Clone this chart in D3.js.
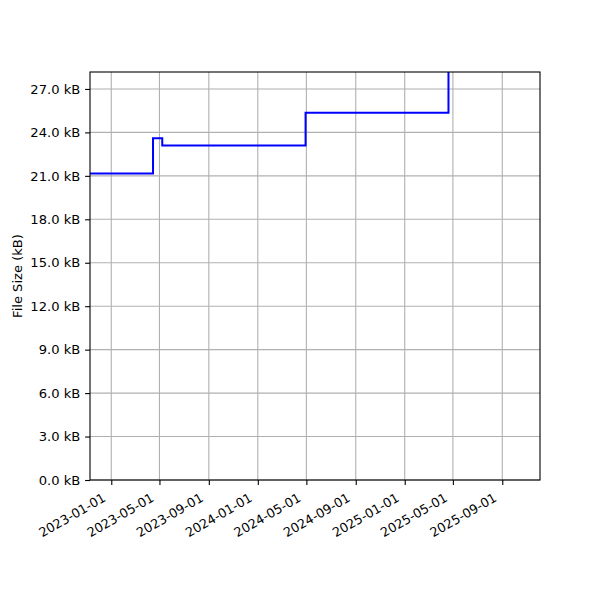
<!DOCTYPE html>
<html>
<head>
<meta charset="utf-8">
<script src="https://cdn.jsdelivr.net/npm/d3@7"></script>
<style>
  body { margin: 0; background: #fff; }
  text { font-family: "DejaVu Sans", sans-serif; }
</style>
</head>
<body>
<svg id="chart" width="600" height="600"></svg>
<script>

// step series: file size (kB) at each change date
var dates = ['2022-11-09', '2023-04-15', '2023-05-08', '2024-04-29', '2025-04-20', '2025-12-04'];
var sizes = [21.17, 23.59, 23.10, 25.36, 31.0, 31.0];

var xTickDates = ['2023-01-01', '2023-05-01', '2023-09-01', '2024-01-01', '2024-05-01',
                  '2024-09-01', '2025-01-01', '2025-05-01', '2025-09-01'];
var yTicks = [0, 3, 6, 9, 12, 15, 18, 21, 24, 27];

var xDomain = ['2022-11-09', '2025-12-04'];
var yDomain = [0, 28.17];

var parse = d3.utcParse('%Y-%m-%d');
var fontSize = 13.1;

var margin = { left: 90, right: 60, top: 72, bottom: 120 },
    width = 600 - margin.left - margin.right,
    height = 600 - margin.top - margin.bottom;

var svg = d3.select('#chart');

var x = d3.scaleUtc()
    .domain(xDomain.map(parse))
    .range([margin.left, margin.left + width]);

var y = d3.scaleLinear()
    .domain(yDomain)
    .range([margin.top + height, margin.top]);

var points = dates.map(function (d, i) { return { date: parse(d), size: sizes[i] }; });

svg.append('clipPath')
    .attr('id', 'clip')
  .append('rect')
    .attr('x', margin.left)
    .attr('y', margin.top)
    .attr('width', width)
    .attr('height', height);

// grid
var grid = svg.append('g').attr('stroke', '#b0b0b0').attr('stroke-width', 1.1);

grid.selectAll('.gx')
    .data(xTickDates.map(parse))
    .enter()
    .append('line')
    .attr('x1', function (d) { return x(d); })
    .attr('x2', function (d) { return x(d); })
    .attr('y1', margin.top)
    .attr('y2', margin.top + height);

grid.selectAll('.gy')
    .data(yTicks)
    .enter()
    .append('line')
    .attr('x1', margin.left)
    .attr('x2', margin.left + width)
    .attr('y1', function (d) { return y(d); })
    .attr('y2', function (d) { return y(d); });

// line
var line = d3.line()
    .x(function (d) { return x(d.date); })
    .y(function (d) { return y(d.size); })
    .curve(d3.curveStepAfter);

svg.append('path')
    .datum(points)
    .attr('clip-path', 'url(#clip)')
    .attr('fill', 'none')
    .attr('stroke', '#0000ff')
    .attr('stroke-width', 2)
    .attr('d', line);

// axes
var xAxis = svg.append('g')
    .attr('transform', 'translate(0,' + (margin.top + height) + ')')
    .call(d3.axisBottom(x)
        .tickValues(xTickDates.map(parse))
        .tickFormat(d3.utcFormat('%Y-%m-%d'))
        .tickSize(4.9)
        .tickPadding(4.9));

xAxis.select('.domain').remove();
xAxis.selectAll('line').attr('stroke', '#000').attr('stroke-width', 1.1);
xAxis.selectAll('text')
    .attr('font-size', 12.8)
    .attr('fill', '#000')
    .attr('text-anchor', 'end')
    .attr('y', 0)
    .attr('dy', '0.76em')
    .attr('transform', 'translate(-10,12) rotate(-30)');

var yAxis = svg.append('g')
    .attr('transform', 'translate(' + margin.left + ',0)')
    .call(d3.axisLeft(y)
        .tickValues(yTicks)
        .tickFormat(function (d) { return d3.format('.1f')(d) + ' kB'; })
        .tickSize(4.9)
        .tickPadding(4.9));

yAxis.select('.domain').remove();
yAxis.selectAll('line').attr('stroke', '#000').attr('stroke-width', 1.1);
yAxis.selectAll('text').attr('font-size', fontSize).attr('fill', '#000');

// frame
svg.append('rect')
    .attr('x', margin.left)
    .attr('y', margin.top)
    .attr('width', width)
    .attr('height', height)
    .attr('fill', 'none')
    .attr('stroke', '#000')
    .attr('stroke-width', 1.1);

svg.append('text')
    .attr('transform', 'translate(21.5,' + (margin.top + height / 2) + ') rotate(-90)')
    .attr('text-anchor', 'middle')
    .attr('font-size', fontSize)
    .text('File Size (kB)');

</script>
</body>
</html>
